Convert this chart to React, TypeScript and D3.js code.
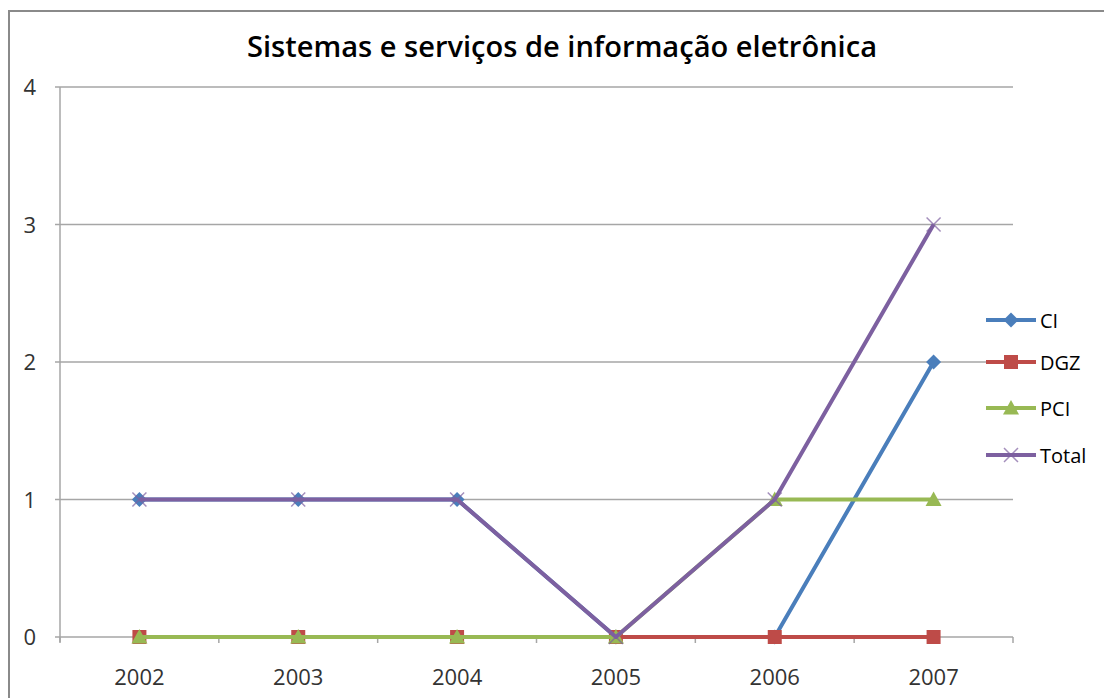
import React from "react";
import * as d3 from "d3";

const years = ["2002", "2003", "2004", "2005", "2006", "2007"];
const ciValues = [1, 1, 1, 0, 0, 2];
const dgzValues = [0, 0, 0, 0, 0, 0];
const pciValues = [0, 0, 0, 0, 1, 1];
const totalValues = [1, 1, 1, 0, 1, 3];
const yTicks = [0, 1, 2, 3, 4];
const title = "Sistemas e serviços de informação eletrônica";

const series = [
  { name: "CI", values: ciValues, color: "#4A7EBB", marker: "diamond" },
  { name: "DGZ", values: dgzValues, color: "#BE4B48", marker: "square" },
  { name: "PCI", values: pciValues, color: "#98B954", marker: "triangle" },
  { name: "Total", values: totalValues, color: "#7D60A0", marker: "x" },
];

function Marker({ type, x, y, color }: { type: string; x: number; y: number; color: string }) {
  if (type === "diamond") {
    const r = 7.5;
    return <path d={`M${x},${y - r}L${x + r},${y}L${x},${y + r}L${x - r},${y}Z`} fill={color} />;
  }
  if (type === "square") {
    const r = 7;
    return <rect x={x - r} y={y - r} width={2 * r} height={2 * r} fill={color} />;
  }
  if (type === "triangle") {
    const r = 8;
    return <path d={`M${x},${y - r}L${x + r},${y + r * 0.8}L${x - r},${y + r * 0.8}Z`} fill={color} />;
  }
  const r = 7;
  return (
    <path
      d={`M${x - r},${y - r}L${x + r},${y + r}M${x - r},${y + r}L${x + r},${y - r}`}
      stroke={color}
      strokeWidth={1.5}
      fill="none"
      opacity={0.7}
    />
  );
}

export default function App() {
  const W = 1104;
  const H = 698;
  const left = 60;
  const right = 1013;
  const top = 87;
  const bottom = 637;
  const x = d3.scaleBand<string>().domain(years).range([left, right]);
  const y = d3.scaleLinear().domain([0, 4]).range([bottom, top]);
  const cx = (c: string) => (x(c) as number) + x.bandwidth() / 2;
  const line = d3
    .line<number>()
    .x((_, i) => cx(years[i]))
    .y((d) => y(d));
  const font = "'Open Sans', 'Liberation Sans', sans-serif";
  const legendY = [320, 362, 408, 455];
  const tickXs = d3.range(years.length + 1).map((i) => left + i * x.bandwidth());

  return (
    <svg
      width={W}
      height={H}
      style={{ position: "absolute", left: 0, top: 0, background: "#fff" }}
    >
      <rect x={9} y={11} width={W + 20} height={H + 20} fill="#fff" stroke="#8a8a8a" strokeWidth={2} />
      <text
        x={562}
        y={57}
        textAnchor="middle"
        fontFamily={font}
        fontWeight={600}
        fontSize={29}
        fill="#000"
        textLength={630}
        lengthAdjust="spacingAndGlyphs"
      >
        {title}
      </text>
      {yTicks.map((t) => (
        <g key={t}>
          <line x1={left - 5} x2={right} y1={y(t)} y2={y(t)} stroke="#a6a6a6" strokeWidth={1.5} />
          <text
            x={36}
            y={y(t) + 8}
            textAnchor="end"
            fontFamily={font}
            fontSize={22}
            fill="#333"
          >
            {t}
          </text>
        </g>
      ))}
      <line x1={left} x2={left} y1={top} y2={bottom + 5} stroke="#a6a6a6" strokeWidth={1.5} />
      {tickXs.map((tx, i) => (
        <line key={i} x1={tx} x2={tx} y1={bottom} y2={bottom + 6} stroke="#a6a6a6" strokeWidth={1.5} />
      ))}
      {years.map((c) => (
        <text
          key={c}
          x={cx(c)}
          y={685}
          textAnchor="middle"
          fontFamily={font}
          fontSize={22}
          fill="#333"
        >
          {c}
        </text>
      ))}
      {series.map((s) => (
        <g key={s.name}>
          <path d={line(s.values) || ""} fill="none" stroke={s.color} strokeWidth={4} strokeLinejoin="round" />
          {s.values.map((v, i) => (
            <Marker key={i} type={s.marker} x={cx(years[i])} y={y(v)} color={s.color} />
          ))}
        </g>
      ))}
      {series.map((s, i) => (
        <g key={s.name}>
          <line x1={986} x2={1036} y1={legendY[i]} y2={legendY[i]} stroke={s.color} strokeWidth={4} />
          <Marker type={s.marker} x={1011} y={legendY[i]} color={s.color} />
          <text x={1040} y={legendY[i] + 8} fontFamily={font} fontSize={20} fill="#000">
            {s.name}
          </text>
        </g>
      ))}
    </svg>
  );
}
